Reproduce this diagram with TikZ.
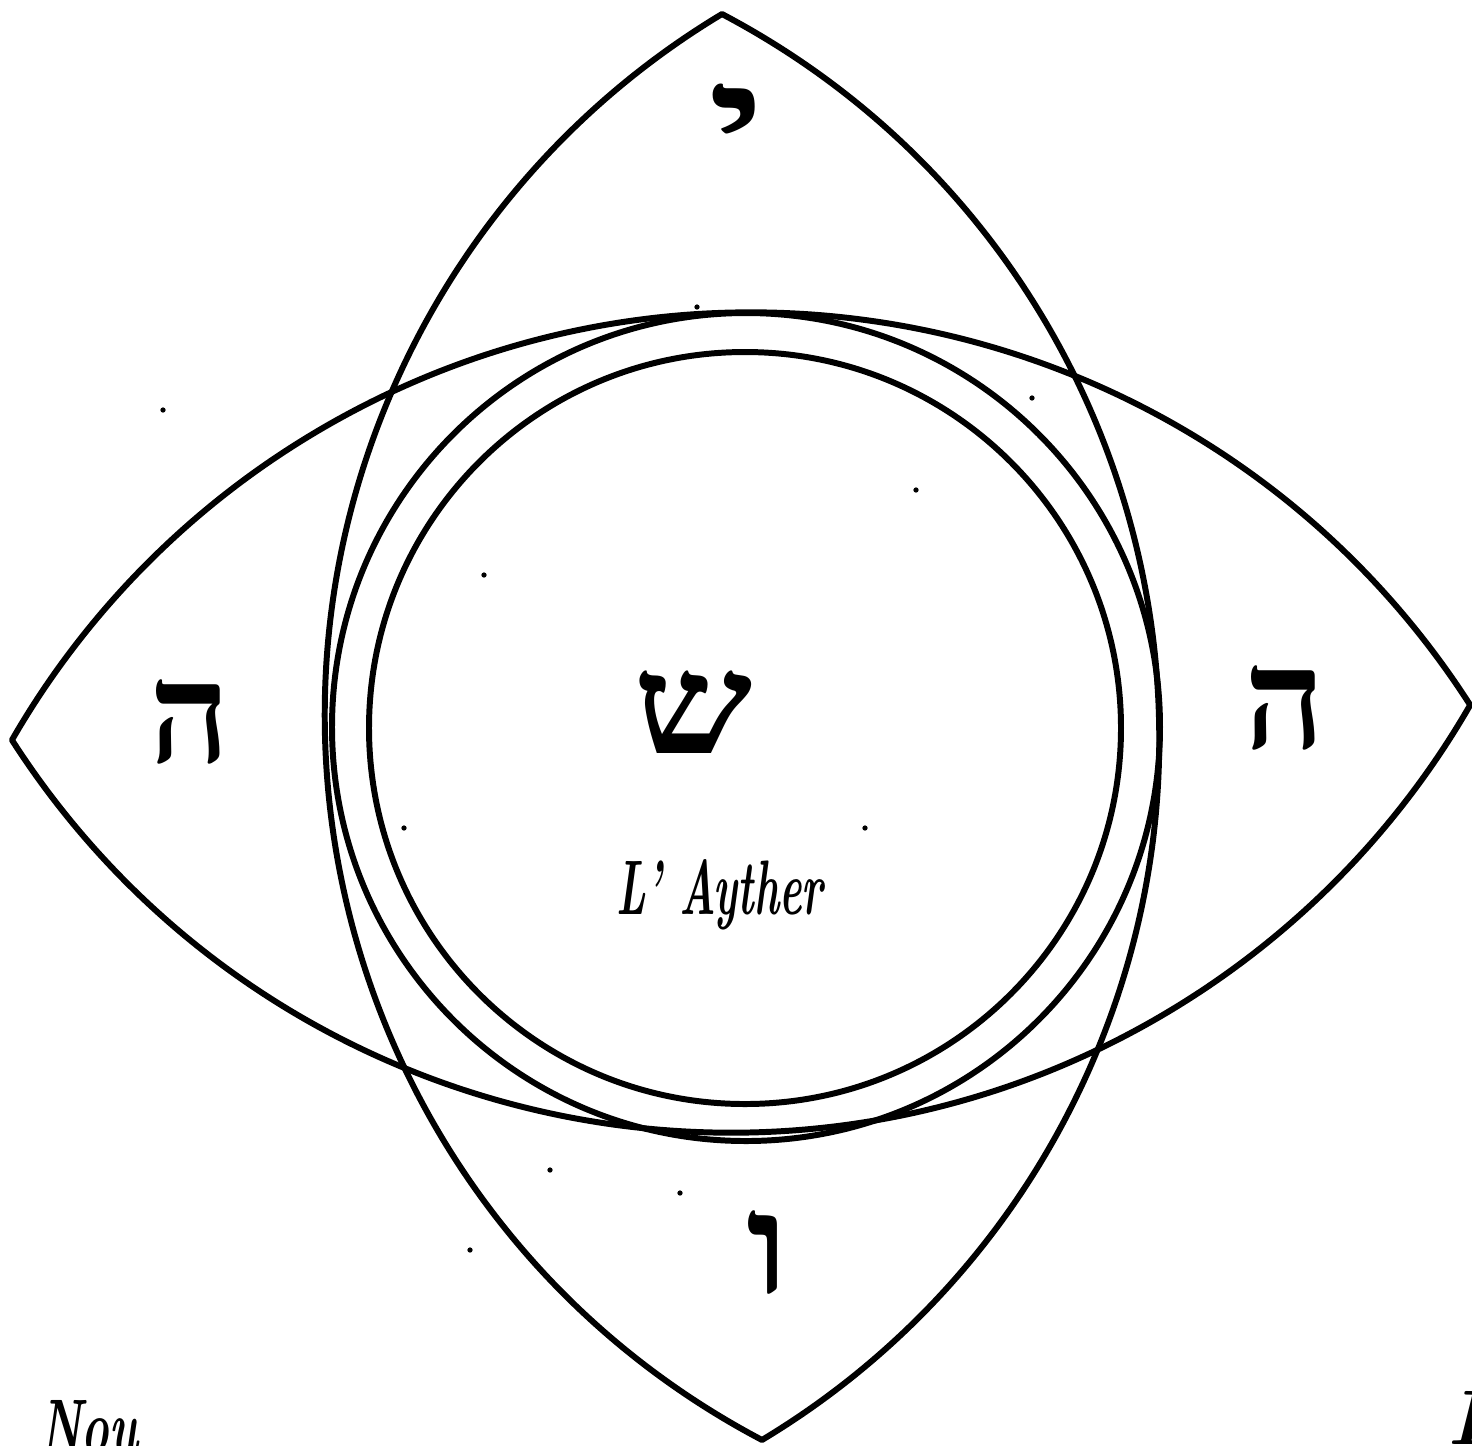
\documentclass[tikz,border=0pt]{standalone}
\usepackage{fontspec}
\newfontfamily\hebfont[Script=Hebrew]{Liberation Serif}
\tikzset{
  lensline/.style={line width=1.7pt, line join=round},
  ringline/.style={line width=1.7pt},
  hebletter/.style={inner sep=0pt, font=\hebfont\bfseries\fontsize{40}{42}\selectfont},
  scriptlabel/.style={inner sep=0pt, font=\bfseries\itshape\fontsize{22}{24}\selectfont},
  speck/.style={fill=black, circle, inner sep=0pt, minimum size=1.5pt}
}
\begin{document}
\begin{tikzpicture}
\useasboundingbox (0,0) rectangle (14.72,-14.45);
% vertical lens
\begin{scope}[shift={(7.42,-7.27)}, rotate=1.607]
  \draw[lensline] (0,7.133) arc[start angle=60.62, end angle=-60.62, radius=8.186cm]
                  arc[start angle=240.62, end angle=119.38, radius=8.186cm] -- cycle;
\end{scope}
% horizontal lens
\begin{scope}[shift={(7.41,-7.225)}, rotate=1.375]
  \draw[lensline] (7.294,0) arc[start angle=31.32, end angle=148.68, radius=8.538cm]
                  arc[start angle=211.32, end angle=328.68, radius=8.538cm] -- cycle;
\end{scope}
% circles
\draw[ringline] (7.46,-7.27) circle[radius=4.14cm];
\draw[ringline] (7.45,-7.28) circle[radius=3.76cm];
% letters
\node[hebletter, xscale=1.6] (yod) at (7.37,-1.25) {י};
\node[hebletter] (heL) at (1.90,-7.22) {ה};
\node[hebletter] (heR) at (12.85,-7.08) {ה};
\node[hebletter, xscale=1.2] (shin) at (6.93,-7.12) {ש};
\node[hebletter, xscale=1.2] (vav) at (7.68,-12.52) {ו};
\node[scriptlabel, xscale=0.55] (aether) at (7.20,-8.95) {L' Ayther};
% cropped corner words
\node[scriptlabel, xscale=0.6, anchor=north west] (nou) at (0.40,-14.00) {Nou};
\node[scriptlabel, anchor=north west] (lr) at (14.47,-13.90) {L'};
% specks
\foreach \p/\n in {{(1.63,-4.10)}/s1,{(6.97,-3.07)}/s2,{(9.16,-4.90)}/s3,{(4.84,-5.75)}/s4,{(4.04,-8.28)}/s5,{(8.65,-8.28)}/s6,{(5.50,-11.70)}/s7,{(6.80,-11.93)}/s8,{(4.70,-12.50)}/s9,{(10.32,-3.98)}/s10}
  \node[speck] (\n) at \p {};
\end{tikzpicture}
\end{document}
